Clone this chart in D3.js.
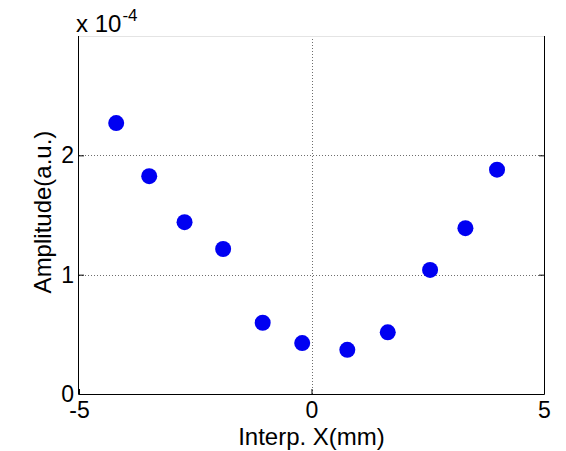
<!DOCTYPE html>
<html>
<head>
<meta charset="utf-8">
<script src="https://cdn.jsdelivr.net/npm/d3@7"></script>
<style>
  html, body { margin: 0; padding: 0; background: #fff; }
  svg { display: block; }
  text { font-family: "Liberation Sans", Arial, sans-serif; fill: #000; }
</style>
</head>
<body>
<div id="chart"></div>
<script>
// Data (x in mm, amplitude in a.u.)
const interpX = [-4.20, -3.49, -2.73, -1.90, -1.05, -0.20, 0.77, 1.64, 2.55, 3.31, 3.99]
const amplitude = [2.27e-4, 1.825e-4, 1.44e-4, 1.215e-4, 0.597e-4, 0.427e-4, 0.37e-4, 0.517e-4, 1.04e-4, 1.39e-4, 1.88e-4]
const xTicks = [-5, 0, 5]
const yTicks = [0, 1e-4, 2e-4]
const yGrid = [1e-4, 2e-4]

const width = 566
const height = 451
const margin = { top: 36, right: 22, bottom: 57, left: 79 }

const svg = d3.select('#chart')
  .append('svg')
  .attr('width', width)
  .attr('height', height)

const x = d3.scaleLinear().domain([-5, 5]).range([margin.left, width - margin.right])
const y = d3.scaleLinear().domain([0, 3e-4]).range([height - margin.bottom, margin.top])

const x0 = x.range()[0], x1 = x.range()[1]
const y0 = y.range()[0], y1 = y.range()[1]

// dotted grid
const grid = svg.append('g')
  .attr('stroke', '#6e6e6e')
  .attr('stroke-width', 1)
  .attr('stroke-dasharray', '1,2')
  .attr('shape-rendering', 'crispEdges')

grid.selectAll('line.gx')
  .data([0])
  .enter().append('line')
  .attr('class', 'gx')
  .attr('x1', d => Math.round(x(d)) + 0.5).attr('x2', d => Math.round(x(d)) + 0.5)
  .attr('y1', y1).attr('y2', y0)

grid.selectAll('line.gy')
  .data(yGrid)
  .enter().append('line')
  .attr('class', 'gy')
  .attr('x1', x0).attr('x2', x1)
  .attr('y1', d => Math.round(y(d)) + 0.5).attr('y2', d => Math.round(y(d)) + 0.5)

// axes (ticks pointing inward)
const xAxis = d3.axisBottom(x)
  .tickValues(xTicks)
  .tickSizeInner(-5)
  .tickSizeOuter(0)
  .tickPadding(8)
  .tickFormat(d => String(d))

const yAxis = d3.axisLeft(y)
  .tickValues(yTicks)
  .tickSizeInner(-5)
  .tickSizeOuter(0)
  .tickPadding(5)
  .tickFormat(d => String(Math.round(d * 1e4)))

const gx = svg.append('g')
  .attr('transform', `translate(0,${y0})`)
  .call(xAxis)
gx.select('.domain').remove()
gx.selectAll('text')
  .attr('font-size', 23)
  .attr('font-family', '"Liberation Sans", Arial, sans-serif')
  .attr('fill', '#000')

const gy = svg.append('g')
  .attr('transform', `translate(${x0},0)`)
  .call(yAxis)
gy.select('.domain').remove()
gy.selectAll('text')
  .attr('font-size', 23)
  .attr('font-family', '"Liberation Sans", Arial, sans-serif')
  .attr('fill', '#000')

// right side ticks, no labels
const gyr = svg.append('g')
  .attr('transform', `translate(${x1},0)`)
  .call(d3.axisRight(y).tickValues(yGrid).tickSizeInner(-5).tickSizeOuter(0).tickFormat(''))
gyr.select('.domain').remove()

// box: top edge is faint in the reference
svg.append('line')
  .attr('x1', x0).attr('x2', x1)
  .attr('y1', y1 + 0.5).attr('y2', y1 + 0.5)
  .attr('stroke', '#e4e4e4')
  .attr('stroke-width', 1)

svg.append('path')
  .attr('d', `M${x0 - 0.5},${y1}V${y0 + 0.5}H${x1 + 0.5}V${y1}`)
  .attr('fill', 'none')
  .attr('stroke', '#000')
  .attr('stroke-width', 1)

// markers
svg.append('g')
  .selectAll('circle')
  .data(interpX.map((v, i) => [v, amplitude[i]]))
  .enter().append('circle')
  .attr('cx', d => x(d[0]))
  .attr('cy', d => y(d[1]))
  .attr('r', 8)
  .attr('fill', '#0000f2')

// labels
svg.append('text')
  .attr('x', (x0 + x1) / 2)
  .attr('y', 445)
  .attr('text-anchor', 'middle')
  .attr('font-size', 24)
  .text('Interp. X(mm)')

svg.append('text')
  .attr('transform', `translate(51,${212}) rotate(-90)`)
  .attr('text-anchor', 'middle')
  .attr('font-size', 24)
  .text('Amplitude(a.u.)')

const exp = svg.append('text')
  .attr('x', 76)
  .attr('y', 32)
  .attr('font-size', 24)
exp.append('tspan').text('x 10')
exp.append('tspan')
  .attr('dx', 1)
  .attr('dy', -11)
  .attr('font-size', 17)
  .text('-4')
</script>
</body>
</html>
